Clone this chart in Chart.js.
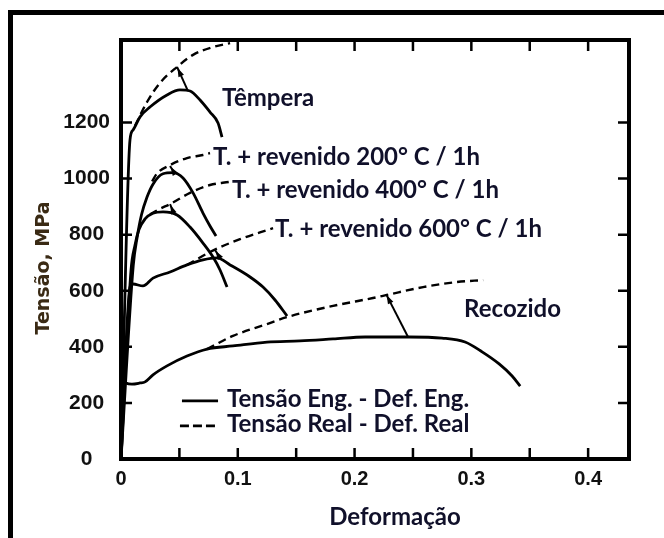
<!DOCTYPE html>
<html lang="pt-BR">
<head>
<meta charset="UTF-8">
<title>Tensão x Deformação</title>
<script src="https://cdn.jsdelivr.net/npm/chart.js"></script>
<style>
    body { margin: 0; background: #fff; }
    .quadro { position: relative; width: 664px; height: 538px; overflow: hidden; }
    .borda { position: absolute; left: 8px; top: 10px; right: -10px; bottom: -10px;
             border-left: 5px solid #000; border-top: 5px solid #000; }
    canvas { position: absolute; left: 0; top: 0; }
</style>
</head>
<body>
<div class="quadro">
    <div class="borda"></div>
    <canvas id="grafico" width="664" height="538"></canvas>
</div>
<script>
// pares [deformação, tensão (MPa)]
const temperaEng = [[0,0],[0.0077,1138],[0.0103,1173],[0.0163,1220],[0.0248,1255],[0.0394,1298],[0.0505,1316],[0.0591,1312],[0.0677,1280],[0.0762,1237],[0.0831,1198],[0.0865,1148]];
const temperaReal = [[0.012,1188],[0.0223,1273],[0.0334,1341],[0.048,1398],[0.0617,1441],[0.0788,1469],[0.0934,1483]];

const rev200Eng = [[0,0],[0.0105,690],[0.0138,790],[0.0175,870],[0.0223,934],[0.0274,980],[0.036,1017],[0.0445,1021],[0.0531,1002],[0.0617,949],[0.0702,877],[0.0762,831],[0.0814,795]];
const rev200Real = [[0.0266,990],[0.0308,1018],[0.042,1048],[0.0565,1073],[0.0702,1084],[0.0762,1091]];

const rev400Eng = [[0,0],[0.0086,674],[0.012,763],[0.0154,818],[0.0206,856],[0.0274,876],[0.036,881],[0.048,870],[0.0591,827],[0.0702,770],[0.0788,720],[0.0848,674],[0.0908,613]];
const rev400Real = [[0.0248,872],[0.0334,892],[0.042,909],[0.0591,949],[0.0762,977],[0.0925,988]];

const rev600Eng = [[0,0],[0.0077,613],[0.0103,624],[0.0188,617],[0.0274,645],[0.042,667],[0.0565,692],[0.0702,710],[0.0822,717],[0.0934,692],[0.1105,649],[0.1216,613],[0.1319,567],[0.1422,510]];
const rev600Real = [[0.0565,692],[0.0762,738],[0.0848,755],[0.1019,784],[0.119,808],[0.1302,823]];

const recozidoEng = [[0,0],[0.0017,282],[0.0043,271],[0.0094,267],[0.0163,271],[0.0206,275],[0.0274,300],[0.0394,332],[0.0565,367],[0.0737,392],[0.0959,403],[0.125,417],[0.1533,421],[0.1816,428],[0.209,435],[0.2467,435],[0.2749,431],[0.2946,417],[0.3092,382],[0.3238,339],[0.3349,296],[0.3418,260]];
const recozidoReal = [[0.0737,392],[0.0959,439],[0.125,481],[0.1422,506],[0.1816,546],[0.2158,574],[0.2278,585],[0.2587,613],[0.2878,631],[0.3101,638]];

// início da estricção: ponto na curva real -> ponto na curva de engenharia
const estriccao = [
    [[0.048,1398],[0.0574,1312]],
    [[0.042,1045],[0.0463,1016]],
    [[0.042,909],[0.0454,874]],
    [[0.0805,745],[0.0848,717]],
    [[0.227,588],[0.2458,435]]
];

const rotulosX = ['0', '0.1', '0.2', '0.3', '0.4'];
const rotulosY = [0, 200, 400, 600, 800, 1000, 1200];
const nomesCurvas = ['Têmpera', 'T. + revenido 200° C / 1h', 'T. + revenido 400° C / 1h', 'T. + revenido 600° C / 1h', 'Recozido'];
const nomesLegenda = ['Tensão Eng. - Def. Eng.', 'Tensão Real - Def. Real'];

// onde cada nome fica (deformação, tensão)
const posNomes = [[0.0865,1287],[0.0788,1077],[0.0951,959],[0.1319,820],[0.2938,535]];

const FONTE_TEXTO = 'bold 24px Lato';
const COR_TEXTO = '#10102a';

function curva(pontos, tracejada) {
    return {
        data: pontos.map(p => ({ x: p[0], y: p[1] })),
        borderColor: '#000',
        borderWidth: tracejada ? 2.4 : 2.8,
        borderDash: tracejada ? [8, 5] : [],
        pointRadius: 0,
        cubicInterpolationMode: 'monotone',
        fill: false
    };
}

const datasets = [
    curva(temperaEng, false), curva(temperaReal, true),
    curva(rev200Eng, false), curva(rev200Real, true),
    curva(rev400Eng, false), curva(rev400Real, true),
    curva(rev600Eng, false), curva(rev600Real, true),
    curva(recozidoEng, false), curva(recozidoReal, true)
];
estriccao.forEach(seg => {
    datasets.push({
        data: seg.map(p => ({ x: p[0], y: p[1] })),
        borderColor: '#000', borderWidth: 2, pointRadius: 0, tension: 0
    });
});

// moldura com marcas para dentro, setas, nomes, legenda e títulos
const moldura = {
    id: 'moldura',
    afterDatasetsDraw(chart) {
        const { ctx, chartArea: a, scales: { x, y } } = chart;
        ctx.save();
        ctx.strokeStyle = '#000';
        ctx.fillStyle = '#000';
        ctx.lineWidth = 4;
        ctx.strokeRect(a.left, a.top, a.right - a.left, a.bottom - a.top);

        ctx.lineWidth = 2.5;
        ctx.beginPath();
        for (let i = 1; i <= 8; i++) {
            const px = x.getPixelForValue(i * 0.05);
            ctx.moveTo(px, a.bottom); ctx.lineTo(px, a.bottom - 11);
            ctx.moveTo(px, a.top); ctx.lineTo(px, a.top + 11);
        }
        rotulosY.slice(1).forEach(v => {
            const py = y.getPixelForValue(v);
            ctx.moveTo(a.left, py); ctx.lineTo(a.left + 11, py);
            ctx.moveTo(a.right, py); ctx.lineTo(a.right - 11, py);
        });
        ctx.stroke();

        // pontinhas de seta junto à curva real
        estriccao.forEach(seg => {
            const x0 = x.getPixelForValue(seg[0][0]), y0 = y.getPixelForValue(seg[0][1]);
            const x1 = x.getPixelForValue(seg[1][0]), y1 = y.getPixelForValue(seg[1][1]);
            const d = Math.hypot(x1 - x0, y1 - y0);
            const ux = (x1 - x0) / d, uy = (y1 - y0) / d;
            const bx = x0 + ux * 10, by = y0 + uy * 10;
            ctx.beginPath();
            ctx.moveTo(x0 + ux, y0 + uy);
            ctx.lineTo(bx - uy * 3, by + ux * 3);
            ctx.lineTo(bx + uy * 3, by - ux * 3);
            ctx.closePath();
            ctx.fill();
        });

        ctx.font = FONTE_TEXTO;
        ctx.fillStyle = COR_TEXTO;
        ctx.textBaseline = 'middle';
        ctx.textAlign = 'left';
        nomesCurvas.forEach((t, i) => {
            ctx.fillText(t, x.getPixelForValue(posNomes[i][0]), y.getPixelForValue(posNomes[i][1]));
        });

        // legenda
        const lx0 = x.getPixelForValue(0.0522), lx1 = x.getPixelForValue(0.0831);
        const ly1 = y.getPixelForValue(207), ly2 = y.getPixelForValue(118);
        ctx.strokeStyle = '#000';
        ctx.lineWidth = 2.8;
        ctx.beginPath(); ctx.moveTo(lx0, ly1); ctx.lineTo(lx1, ly1); ctx.stroke();
        ctx.lineWidth = 2.6;
        ctx.setLineDash([9, 4]);
        ctx.beginPath(); ctx.moveTo(lx0 - 2, ly2); ctx.lineTo(lx1, ly2); ctx.stroke();
        ctx.setLineDash([]);
        const tx = x.getPixelForValue(0.0908);
        ctx.fillText(nomesLegenda[0], tx, ly1 - 2);
        ctx.fillText(nomesLegenda[1], tx, ly2 - 2);

        // títulos dos eixos
        ctx.textAlign = 'center';
        ctx.fillText('Deformação', 395, 517);
        ctx.save();
        ctx.translate(44, 268);
        ctx.rotate(-Math.PI / 2);
        ctx.font = 'bold 19px "DejaVu Sans"';
        ctx.fillStyle = '#3a2a14';
        ctx.fillText('Tensão, MPa', 0, 0);
        ctx.restore();

        ctx.restore();
    }
};

new Chart(document.getElementById('grafico'), {
    type: 'line',
    data: { datasets: datasets },
    options: {
        responsive: false,
        animation: false,
        layout: { padding: { left: 0, top: 40, right: 35, bottom: 0 } },
        plugins: { legend: { display: false }, tooltip: { enabled: false } },
        scales: {
            x: {
                type: 'linear', min: 0, max: 0.435,
                grid: { display: false }, border: { display: false },
                ticks: {
                    stepSize: 0.1, includeBounds: false, maxRotation: 0, autoSkip: false,
                    padding: 0, color: '#111',
                    font: { family: 'Liberation Sans', weight: 'bold', size: 20 },
                    callback: v => rotulosX[Math.round(v * 10)] || ''
                },
                afterFit: s => { s.height = 79; }
            },
            y: {
                type: 'linear', min: 0, max: 1494,
                grid: { display: false }, border: { display: false },
                ticks: {
                    stepSize: 200, includeBounds: false, crossAlign: 'center',
                    padding: 3, color: '#111',
                    font: { family: 'Liberation Sans', weight: 'bold', size: 21 },
                    callback: v => rotulosY.includes(v) ? String(v) : ''
                },
                afterFit: s => { s.width = 121; }
            }
        }
    },
    plugins: [moldura]
});
</script>
</body>
</html>
